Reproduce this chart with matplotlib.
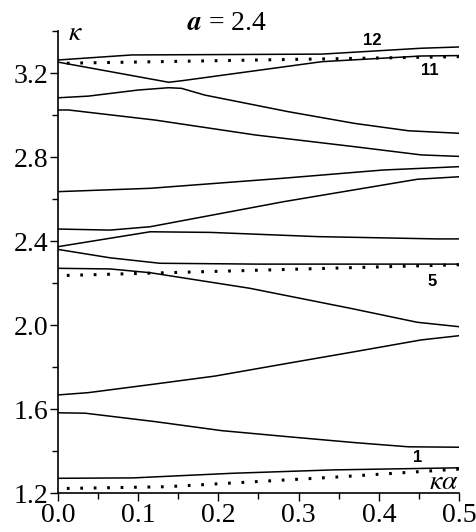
import matplotlib
matplotlib.use("Agg")
import matplotlib.pyplot as plt
from matplotlib.ticker import MultipleLocator

# branches of the dispersion curves
b1_x = [0.0, 0.094, 0.218, 0.343, 0.5]
b1_y = [1.270, 1.272, 1.294, 1.310, 1.320]
b2_x = [0.0, 0.034, 0.121, 0.204, 0.287, 0.370, 0.437, 0.5]
b2_y = [1.582, 1.580, 1.540, 1.497, 1.468, 1.440, 1.420, 1.418]
b3_x = [0.0, 0.038, 0.121, 0.196, 0.287, 0.370, 0.453, 0.5]
b3_y = [1.667, 1.678, 1.719, 1.757, 1.818, 1.873, 1.929, 1.949]
b4_x = [0.0, 0.065, 0.115, 0.239, 0.364, 0.448, 0.5]
b4_y = [2.270, 2.267, 2.249, 2.175, 2.080, 2.013, 1.992]
b5_x = [0.0, 0.065, 0.127, 0.25, 0.5]
b5_y = [2.360, 2.320, 2.294, 2.290, 2.290]
b6_x = [0.0, 0.115, 0.19, 0.323, 0.472, 0.5]
b6_y = [2.373, 2.444, 2.441, 2.421, 2.410, 2.410]
b7_x = [0.0, 0.065, 0.115, 0.281, 0.448, 0.5]
b7_y = [2.457, 2.452, 2.468, 2.587, 2.694, 2.706]
b8_x = [0.0, 0.115, 0.281, 0.405, 0.5]
b8_y = [2.635, 2.651, 2.699, 2.738, 2.754]
b9_x = [0.0, 0.013, 0.121, 0.246, 0.370, 0.453, 0.5]
b9_y = [3.024, 3.024, 2.976, 2.905, 2.849, 2.810, 2.803]
b10_x = [0.0, 0.038, 0.100, 0.138, 0.154, 0.183, 0.287, 0.370, 0.437, 0.5]
b10_y = [3.082, 3.090, 3.119, 3.130, 3.127, 3.095, 3.016, 2.960, 2.925, 2.913]
b11_x = [0.0, 0.138, 0.154, 0.329, 0.453, 0.5]
b11_y = [3.252, 3.156, 3.163, 3.254, 3.281, 3.283]
b12_x = [0.0, 0.092, 0.329, 0.453, 0.5]
b12_y = [3.262, 3.286, 3.290, 3.318, 3.324]

branches = [(b1_x, b1_y), (b2_x, b2_y), (b3_x, b3_y), (b4_x, b4_y),
            (b5_x, b5_y), (b6_x, b6_y), (b7_x, b7_y), (b8_x, b8_y),
            (b9_x, b9_y), (b10_x, b10_y), (b11_x, b11_y), (b12_x, b12_y)]

# dotted light lines
d_low_x = [0.0, 0.136, 0.343, 0.5]
d_low_y = [1.221, 1.230, 1.275, 1.314]
d_mid_x = [0.0, 0.5]
d_mid_y = [2.235, 2.287]
d_top_x = [0.0, 0.5]
d_top_y = [3.246, 3.278]

dotted = [(d_low_x, d_low_y), (d_mid_x, d_mid_y), (d_top_x, d_top_y)]

plt.rcParams['font.family'] = ['Liberation Serif', 'DejaVu Serif']

fig = plt.figure(figsize=(4.76, 5.32), dpi=100)
ax = fig.add_axes([0.1218, 0.0733, 0.8424, 0.8684])

for bx, by in branches:
    ax.plot(bx, by, color='black', lw=1.1)
for dx, dy in dotted:
    ax.plot(dx, dy, color='black', lw=2.2, linestyle=(1.5, (0.9, 3.5)),
            dash_capstyle='butt')

ax.set_xlim(0, 0.5)
ax.set_ylim(1.2, 3.4)
ax.xaxis.set_major_locator(MultipleLocator(0.1))
ax.xaxis.set_minor_locator(MultipleLocator(0.05))
ax.yaxis.set_major_locator(MultipleLocator(0.4))
ax.yaxis.set_minor_locator(MultipleLocator(0.2))
ax.xaxis.set_major_formatter(plt.FormatStrFormatter('%.1f'))
ax.yaxis.set_major_formatter(plt.FormatStrFormatter('%.1f'))
ax.tick_params(which='major', direction='out', length=6, width=1.0,
               labelsize=20, pad=1)
ax.tick_params(which='minor', direction='out', length=4, width=1.0)
for s in ['top', 'right']:
    ax.spines[s].set_visible(False)
for s in ['left', 'bottom']:
    ax.spines[s].set_linewidth(1.2)

# branch numbers
num_font = dict(family='Liberation Sans', fontweight='bold', fontsize=12)
ax.text(0.392, 3.357, '12', ha='center', va='center', **num_font)
ax.text(0.464, 3.214, '11', ha='center', va='center', **num_font)
ax.text(0.466, 2.205, '5', ha='center', va='center', **num_font)
ax.text(0.448, 1.371, '1', ha='center', va='center', **num_font)

ax.text(0.499, 1.25, r'$\kappa\alpha$', ha='right', va='center',
        fontsize=20, math_fontfamily='stix')
ax.text(0.012, 3.39, r'$\kappa$', ha='left', va='center',
        fontsize=20, math_fontfamily='stix')

fig.text(227 / 476, 1 - 24 / 532, r'$\boldsymbol{a}$ = 2.4', ha='center',
         va='center', fontsize=20, math_fontfamily='stix')

fig.savefig('out.png', dpi=100)
